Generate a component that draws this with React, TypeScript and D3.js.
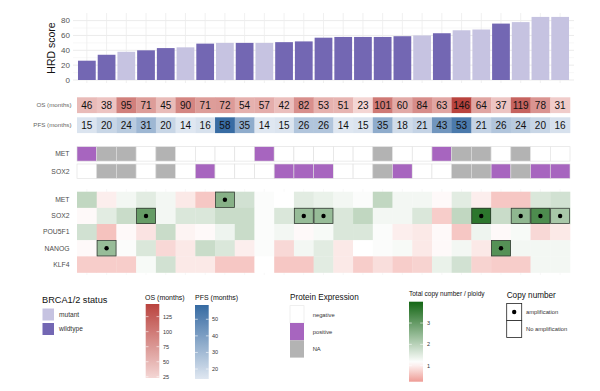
import React from 'react';
import * as d3 from 'd3';

// one value per patient, sorted by HRD score
const hrd = [26, 34, 38, 40, 43, 44, 49, 50, 50, 50, 51, 52, 57, 58, 58, 58, 59, 60, 63, 67, 68, 76, 78, 85, 85];
const brca = ['wildtype', 'wildtype', 'mutant', 'wildtype', 'wildtype', 'mutant', 'wildtype', 'mutant', 'wildtype', 'mutant',
  'wildtype', 'wildtype', 'wildtype', 'wildtype', 'wildtype', 'wildtype', 'wildtype', 'mutant', 'wildtype', 'mutant',
  'mutant', 'wildtype', 'mutant', 'mutant', 'mutant'];
const os = [46, 38, 95, 71, 45, 90, 71, 72, 54, 57, 42, 82, 53, 51, 23, 101, 60, 84, 63, 146, 64, 37, 119, 78, 31];
const pfs = [15, 20, 24, 31, 20, 14, 16, 58, 35, 14, 15, 26, 26, 14, 15, 35, 18, 21, 43, 53, 21, 26, 24, 20, 16];

const proteinMET = ['positive', 'NA', 'NA', 'negative', 'NA', 'negative', 'negative', 'negative', 'negative', 'positive',
  'negative', 'negative', 'negative', 'negative', 'negative', 'NA', 'negative', 'negative', 'positive', 'NA',
  'NA', 'negative', 'NA', 'negative', 'negative'];
const proteinSOX2 = ['negative', 'NA', 'NA', 'negative', 'NA', 'negative', 'positive', 'negative', 'negative', 'negative',
  'positive', 'positive', 'positive', 'negative', 'negative', 'NA', 'positive', 'negative', 'negative', 'NA',
  'NA', 'positive', 'NA', 'positive', 'positive'];

const genes = ['MET', 'SOX2', 'POU5F1', 'NANOG', 'KLF4'];
const cnMET = [1.9, 1.0, 1.3, 1.5, 1.3, 0.95, 0.65, 2.6, 1.7, 1.2, 1.15, 1.5, 1.4, 1.3, 1.2, 1.9, 1.3, 1.3, 1.1, 1.5, 1.0, 0.65, 0.65, 1.6, 1.7];
const cnSOX2 = [1.1, 1.5, 1.8, 3.0, 1.3, 1.6, 1.6, 1.8, 1.8, 1.2, 1.6, 2.4, 2.4, 1.6, 1.9, 1.3, 1.3, 1.6, 0.7, 1.9, 3.7, 1.8, 2.5, 3.3, 2.2];
const cnPOU5F1 = [1.7, 0.6, 1.1, 0.9, 1.8, 1.05, 1.1, 1.35, 1.8, 1.2, 1.3, 1.1, 1.25, 1.6, 1.6, 1.2, 1.0, 0.95, 1.1, 0.65, 1.35, 1.1, 1.25, 0.8, 0.95];
const cnNANOG = [1.1, 2.4, 1.2, 1.6, 0.8, 0.95, 1.8, 1.6, 1.0, 1.2, 0.8, 1.3, 1.5, 0.95, 1.15, 1.2, 1.25, 0.95, 1.1, 1.3, 0.95, 3.2, 1.3, 1.3, 1.3];
const cnKLF4 = [0.7, 0.7, 0.7, 1.25, 1.7, 0.95, 0.95, 0.65, 0.65, 1.15, 0.65, 0.65, 1.5, 0.95, 0.7, 0.85, 0.7, 0.75, 1.4, 1.7, 0.75, 0.7, 0.7, 1.3, 1.3];
// columns (0-based) with amplification
const ampMET = [7];
const ampSOX2 = [3, 11, 12, 20, 22, 23, 24];
const ampPOU5F1: number[] = [];
const ampNANOG = [1, 21];
const ampKLF4: number[] = [];

const hrdTicks = [0, 20, 40, 60, 80];
const osTicks = [25, 50, 75, 100, 125];
const pfsTicks = [20, 30, 40, 50];
const cnTicks = [1, 2, 3];

const W = 600, H = 391;
const font = 'Liberation Sans, Arial, Helvetica, sans-serif';

const App = () => {
  const idx = d3.range(hrd.length);
  const x = d3.scaleBand<number>().domain(idx).range([77, 570]);
  const xBar = d3.scaleBand<number>().domain(idx).range([77, 570]).paddingInner(0.1).paddingOuter(0.05);
  const y = d3.scaleLinear().domain([0, 90]).range([80, 13.2]);

  const brcaColor = d3.scaleOrdinal<string, string>().domain(['mutant', 'wildtype']).range(['#c6c3e1', '#7367b3']);
  const osColor = d3.scaleLinear<string>().domain([23, 146]).range(['#f4d6d4', '#b9433e']);
  const pfsColor = d3.scaleLinear<string>().domain([14, 58]).range(['#dfe7f1', '#386ca3']);
  const protColor = d3.scaleOrdinal<string, string>().domain(['negative', 'positive', 'NA']).range(['#ffffff', '#a765bf', '#b3b3b3']);
  const cnColor = d3.scaleLinear<string>().domain([0.25, 1.15, 4]).range(['#ee9b95', '#ffffff', '#136614']).clamp(true);

  const cnRows = [cnMET, cnSOX2, cnPOU5F1, cnNANOG, cnKLF4];
  const ampRows = [ampMET, ampSOX2, ampPOU5F1, ampNANOG, ampKLF4];
  const yGene = d3.scaleBand<string>().domain(genes).range([191.7, 272.5]);

  const protRows = [{ name: 'MET', vals: proteinMET, y0: 146.7 }, { name: 'SOX2', vals: proteinSOX2, y0: 164 }];

  const gridMinor = [10, 30, 50, 70];

  // legend scales
  const osLeg = d3.scaleLinear().domain([23, 146]).range([378, 304]);
  const pfsLeg = d3.scaleLinear().domain([14, 58.6]).range([379, 305]);
  const cnLeg = d3.scaleLinear().domain([0.25, 4]).range([381.7, 301.7]);

  const gradStops = (sc: d3.ScaleLinear<string, string>, lo: number, hi: number) =>
    d3.range(21).map(i => {
      const v = lo + (hi - lo) * i / 20;
      return <stop key={i} offset={`${i * 5}%`} stopColor={sc(v)} />;
    });

  const label = { fontFamily: font, fontSize: 6.8, fill: '#4d4d4d' };

  return (
    <svg width={W} height={H} style={{ position: 'absolute', left: 0, top: 0, background: '#fff' }} fontFamily={font}>
      <defs>
        <linearGradient id="gOS" x1="0" y1="1" x2="0" y2="0">{gradStops(osColor, 23, 146)}</linearGradient>
        <linearGradient id="gPFS" x1="0" y1="1" x2="0" y2="0">{gradStops(pfsColor, 14, 58.6)}</linearGradient>
        <linearGradient id="gCN" x1="0" y1="1" x2="0" y2="0">{gradStops(cnColor, 0.25, 4)}</linearGradient>
      </defs>

      {/* HRD bar panel */}
      <g>
        {gridMinor.map(t => (
          <line key={'m' + t} x1={73} x2={574} y1={y(t)} y2={y(t)} stroke="#f2f2f2" strokeWidth={0.6} />
        ))}
        {hrdTicks.map(t => (
          <line key={'g' + t} x1={73} x2={574} y1={y(t)} y2={y(t)} stroke="#e6e6e6" strokeWidth={0.8} />
        ))}
        {idx.map(i => (
          <line key={'v' + i} x1={x(i)! + x.bandwidth() / 2} x2={x(i)! + x.bandwidth() / 2} y1={13} y2={83} stroke="#ececec" strokeWidth={0.8} />
        ))}
        {idx.map(i => (
          <rect key={'b' + i} x={xBar(i)} width={xBar.bandwidth()} y={y(hrd[i])} height={y(0) - y(hrd[i])} fill={brcaColor(brca[i])} />
        ))}
        {hrdTicks.map(t => (
          <text key={'t' + t} x={70} y={y(t)} dy="0.35em" textAnchor="end" fontSize={8} fill="#555">{t}</text>
        ))}
        <text transform={`translate(55,48) rotate(-90)`} textAnchor="middle" fontSize={10.5} fill="#111">HRD score</text>
      </g>

      {/* OS / PFS rows */}
      <text x={71.5} y={105} dy="0.35em" textAnchor="end" {...label} fontSize={6.2} fill="#666">OS (months)</text>
      <text x={71.5} y={125} dy="0.35em" textAnchor="end" {...label} fontSize={6.2} fill="#666">PFS (months)</text>
      {idx.map(i => (
        <g key={'os' + i}>
          <rect x={x(i)} width={x.bandwidth() + 0.3} y={97.3} height={15.8} fill={osColor(os[i])} />
          <text x={x(i)! + x.bandwidth() / 2} y={105.4} dy="0.36em" textAnchor="middle" fontSize={10} fill="#111">{os[i]}</text>
          <rect x={x(i)} width={x.bandwidth() + 0.3} y={117.3} height={15.8} fill={pfsColor(pfs[i])} />
          <text x={x(i)! + x.bandwidth() / 2} y={125.4} dy="0.36em" textAnchor="middle" fontSize={10} fill="#111">{pfs[i]}</text>
        </g>
      ))}

      {/* protein expression rows */}
      {protRows.map(r => (
        <g key={r.name}>
          <text x={69.5} y={r.y0 + 7.2} dy="0.35em" textAnchor="end" {...label}>{r.name}</text>
          {r.vals.map((v, i) => (
            <rect key={i} x={x(i)} width={x.bandwidth()} y={r.y0} height={14.4} fill={protColor(v)} stroke="#dedede" strokeWidth={0.6} />
          ))}
        </g>
      ))}

      {/* copy number heatmap */}
      {idx.map(i => (
        <line key={'hv' + i} x1={x(i)! + x.bandwidth() / 2} x2={x(i)! + x.bandwidth() / 2} y1={189} y2={275} stroke="#f3f3f3" strokeWidth={0.6} />
      ))}
      {genes.map((g, gi) => (
        <g key={g}>
          <text x={69.5} y={yGene(g)! + yGene.bandwidth() / 2} dy="0.35em" textAnchor="end" {...label}>{g}</text>
          {cnRows[gi].map((v, i) => (
            <rect key={i} x={x(i)} width={x.bandwidth() + 0.3} y={yGene(g)} height={yGene.bandwidth() + 0.3} fill={cnColor(v)} />
          ))}
        </g>
      ))}
      {genes.map((g, gi) => ampRows[gi].map(i => (
        <g key={g + 'a' + i}>
          <rect x={x(i)! + 0.4} width={x.bandwidth() - 0.8} y={yGene(g)! + 0.4} height={yGene.bandwidth() - 0.8} fill="none" stroke="#333" strokeWidth={0.7} />
          <circle cx={x(i)! + x.bandwidth() / 2} cy={yGene(g)! + yGene.bandwidth() / 2} r={2.2} fill="#000" />
        </g>
      )))}

      {/* legends */}
      <g>
        <text x={42} y={300} dy="0.35em" fontSize={9.2} fill="#111">BRCA1/2 status</text>
        {['mutant', 'wildtype'].map((k, i) => (
          <g key={k}>
            <rect x={42.5} y={308.5 + i * 14.5} width={11.5} height={12} fill={brcaColor(k)} />
            <text x={59} y={314.5 + i * 14.5} dy="0.35em" fontSize={6.6} fill="#333">{k}</text>
          </g>
        ))}
      </g>

      <g>
        <text x={145} y={297.5} dy="0.35em" fontSize={7} fill="#111">OS (months)</text>
        <rect x={145.7} y={304} width={13.6} height={74} fill="url(#gOS)" />
        {osTicks.map(t => (
          <g key={t}>
            <line x1={145.7} x2={148.5} y1={osLeg(t)} y2={osLeg(t)} stroke="#fff" strokeWidth={0.6} />
            <line x1={156.5} x2={159.3} y1={osLeg(t)} y2={osLeg(t)} stroke="#fff" strokeWidth={0.6} />
            <text x={163} y={osLeg(t)} dy="0.35em" fontSize={5.5} fill="#333">{t}</text>
          </g>
        ))}
      </g>

      <g>
        <text x={195} y={297.5} dy="0.35em" fontSize={7} fill="#111">PFS (months)</text>
        <rect x={195} y={305} width={13.7} height={74} fill="url(#gPFS)" />
        {pfsTicks.map(t => (
          <g key={t}>
            <line x1={195} x2={197.8} y1={pfsLeg(t)} y2={pfsLeg(t)} stroke="#fff" strokeWidth={0.6} />
            <line x1={205.9} x2={208.7} y1={pfsLeg(t)} y2={pfsLeg(t)} stroke="#fff" strokeWidth={0.6} />
            <text x={212} y={pfsLeg(t)} dy="0.35em" fontSize={5.5} fill="#333">{t}</text>
          </g>
        ))}
      </g>

      <g>
        <text x={290} y={297.5} dy="0.35em" fontSize={8.2} fill="#111">Protein Expression</text>
        {['negative', 'positive', 'NA'].map((k, i) => (
          <g key={k}>
            <rect x={290} y={305.7 + i * 17.3} width={14} height={17.3} fill={protColor(k)} stroke={k === 'negative' ? '#e4e4e4' : 'none'} strokeWidth={0.6} />
            <text x={312.7} y={314.5 + i * 17.3} dy="0.35em" fontSize={5.8} fill="#333">{k}</text>
          </g>
        ))}
      </g>

      <g>
        <text x={409} y={294} dy="0.35em" fontSize={6.5} fill="#111">Total copy number / ploidy</text>
        <rect x={409} y={301.7} width={14} height={80} fill="url(#gCN)" />
        {cnTicks.map(t => (
          <g key={t}>
            <line x1={409} x2={411.8} y1={cnLeg(t)} y2={cnLeg(t)} stroke="#fff" strokeWidth={0.6} />
            <line x1={420.2} x2={423} y1={cnLeg(t)} y2={cnLeg(t)} stroke="#fff" strokeWidth={0.6} />
            <text x={427} y={cnLeg(t)} dy="0.35em" fontSize={5.5} fill="#333">{t}</text>
          </g>
        ))}
      </g>

      <g>
        <text x={506.7} y={295} dy="0.35em" fontSize={8.2} fill="#111">Copy number</text>
        {['amplification', 'No amplification'].map((k, i) => (
          <g key={k}>
            <rect x={506.7} y={303.5 + i * 17} width={15} height={17} fill="#fff" stroke="#222" strokeWidth={0.8} />
            {i === 0 && <circle cx={514.2} cy={312} r={2.2} fill="#000" />}
            <text x={526} y={312 + i * 17} dy="0.35em" fontSize={5.8} fill="#333">{k}</text>
          </g>
        ))}
      </g>
    </svg>
  );
};

export default App;
